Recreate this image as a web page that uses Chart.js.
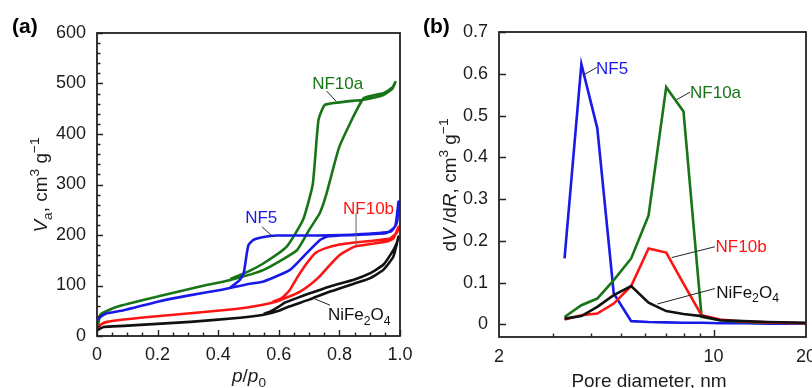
<!DOCTYPE html>
<html>
<head>
<meta charset="utf-8">
<script src="https://cdn.jsdelivr.net/npm/chart.js@4.4.1/dist/chart.umd.min.js"></script>
<style>
  body { margin: 0; background: #fff; }
  .panel { position: absolute; top: 0; }
</style>
</head>
<body>
<canvas id="iso" class="panel" style="left:0" width="430" height="388"></canvas>
<canvas id="psd" class="panel" style="left:410px" width="402" height="388"></canvas>
<script>
// (a) N2 isotherms, each: adsorption branch then desorption branch
const nf10aP = [0.002, 0.011, 0.027, 0.066, 0.2, 0.34, 0.44, 0.55, 0.66, 0.70, 0.735, 0.758, 0.80, 0.88, 0.945, 0.975, 0.985,
                0.975, 0.945, 0.88, 0.753, 0.731, 0.712, 0.68, 0.626, 0.55, 0.50, 0.44];
const nf10aV = [18, 42, 48, 58, 78, 98, 111, 131, 170, 210, 243, 283, 375, 471, 481, 492, 503,
                490, 477, 468, 458, 428, 300, 230, 177, 144, 128, 113];

const nf5P = [0.002, 0.011, 0.033, 0.088, 0.2, 0.3, 0.407, 0.5, 0.55, 0.637, 0.692, 0.736, 0.76, 0.85, 0.956, 0.984, 0.995,
              0.99, 0.97, 0.85, 0.70, 0.593, 0.55, 0.515, 0.50, 0.495, 0.484, 0.47, 0.44];
const nf5V = [32, 38, 45, 51, 68, 80, 91, 103, 108, 131, 164, 190, 197, 200, 204, 217, 266,
              225, 207, 201, 199, 199, 196, 190, 180, 166, 124, 110, 96];

const nf10bP = [0.002, 0.011, 0.033, 0.143, 0.308, 0.45, 0.53, 0.59, 0.63, 0.67, 0.70, 0.735, 0.76, 0.80, 0.85, 0.90, 0.956, 0.978, 0.995,
                0.99, 0.967, 0.90, 0.85, 0.80, 0.755, 0.72, 0.69, 0.66, 0.635, 0.61, 0.58];
const nf10bV = [15, 22, 28, 36, 45, 53, 60, 68, 77, 88, 100, 118, 135, 160, 177, 182, 187, 193, 216,
                205, 193, 188, 185, 181, 174, 164, 142, 115, 90, 75, 68];

const nifeP = [0.002, 0.022, 0.088, 0.308, 0.472, 0.55, 0.60, 0.637, 0.70, 0.769, 0.85, 0.90, 0.945, 0.978, 0.995,
               0.99, 0.978, 0.945, 0.90, 0.85, 0.769, 0.70, 0.659, 0.62, 0.60, 0.571, 0.55];
const nifeV = [12, 18, 20, 28, 36, 42, 50, 59, 72, 88, 104, 114, 131, 157, 197,
               185, 170, 141, 124, 112, 98, 84, 75, 66, 58, 48, 44];

// (b) pore size distributions
const poreD = [3.27, 3.71, 4.18, 4.73, 5.39, 6.14, 7.01, 7.98, 9.14, 10.5, 12.5, 15, 20];
const nf5Dist = [0.158, 0.623, 0.47, 0.074, 0.008, 0.006, 0.005, 0.004, 0.004, 0.003, 0.003, 0.002, 0.002];
const nf10aDist = [0.018, 0.046, 0.062, 0.106, 0.158, 0.261, 0.568, 0.51, 0.018, 0.01, 0.006, 0.004, 0.003];
const nf10bDist = [0.012, 0.022, 0.026, 0.05, 0.092, 0.182, 0.172, 0.098, 0.022, 0.012, 0.007, 0.005, 0.003];
const nifeDist = [0.014, 0.02, 0.042, 0.07, 0.092, 0.052, 0.032, 0.025, 0.02, 0.01, 0.008, 0.006, 0.004];

// tick values / labels
const isoXTicks = [0, 0.2, 0.4, 0.6, 0.8, 1.0];
const isoXLabels = ['0', '0.2', '0.4', '0.6', '0.8', '1.0'];
const isoYTicks = [0, 100, 200, 300, 400, 500, 600];
const psdXTicks = [2, 10, 20];
const psdXMinor = [3, 4, 5, 6, 7, 8, 9];
const psdYTicks = [0, 0.1, 0.2, 0.3, 0.4, 0.5, 0.6, 0.7];

const FONT = '"Liberation Sans", Arial, Helvetica, sans-serif';
const INK = '#1c1c1c';
const GREEN = '#177517', BLUE = '#1a1ae8', RED = '#ff1414', BLACK = '#111111';

function steps(from, to, step) {
  const out = [];
  for (let v = from; v <= to + step / 2; v += step) out.push(+v.toFixed(4));
  return out;
}

function series(xs, ys, color, tension) {
  return {
    data: xs.map((x, i) => ({ x: x, y: ys[i] })),
    showLine: true, borderColor: color, backgroundColor: color,
    borderWidth: 2.6, pointRadius: 0, tension: tension, fill: false
  };
}

function labelOf(list, labels) {
  return v => {
    const i = list.findIndex(t => Math.abs(t - v) < 1e-9);
    return i < 0 ? '' : (labels ? labels[i] : String(list[i]));
  };
}

// text with italic / sub / sup pieces
function rich(ctx, parts, x, y, size, color, align, weight) {
  const segs = parts.map(([t, k]) => {
    const small = k === 'sub' || k === 'sup';
    const fs = small ? size * 0.72 : size;
    const font = (k === 'i' ? 'italic ' : '') + (weight || '') + ' ' + fs + 'px ' + FONT;
    ctx.font = font;
    return { t, font, w: ctx.measureText(t).width, dy: k === 'sub' ? size * 0.27 : k === 'sup' ? -size * 0.42 : 0 };
  });
  const total = segs.reduce((s, g) => s + g.w, 0);
  let cx = align === 'center' ? x - total / 2 : align === 'right' ? x - total : x;
  ctx.fillStyle = color;
  ctx.textAlign = 'left';
  ctx.textBaseline = 'alphabetic';
  segs.forEach(g => { ctx.font = g.font; ctx.fillText(g.t, cx, y + g.dy); cx += g.w; });
}

// frame, inner ticks, callouts, axis titles
function decor(cfg) {
  return {
    id: 'decor',
    afterDraw(chart) {
      const { ctx, chartArea: a, scales } = chart;
      ctx.save();
      ctx.strokeStyle = '#222';
      ctx.lineWidth = 1.8;
      ctx.strokeRect(a.left, a.top, a.right - a.left, a.bottom - a.top);

      ctx.lineWidth = 1.4;
      ctx.beginPath();
      cfg.xTicks.forEach(([v, len]) => {
        const px = Math.round(scales.x.getPixelForValue(v)) + 0.5;
        ctx.moveTo(px, a.bottom); ctx.lineTo(px, a.bottom - len);
      });
      cfg.yTicks.forEach(([v, len]) => {
        const py = Math.round(scales.y.getPixelForValue(v)) + 0.5;
        ctx.moveTo(a.left, py); ctx.lineTo(a.left + len, py);
      });
      ctx.stroke();

      cfg.notes.forEach(n => {
        ctx.strokeStyle = n.lineColor || '#222';
        ctx.lineWidth = 1;
        ctx.beginPath();
        ctx.moveTo(scales.x.getPixelForValue(n.line[0][0]), scales.y.getPixelForValue(n.line[0][1]));
        ctx.lineTo(scales.x.getPixelForValue(n.line[1][0]), scales.y.getPixelForValue(n.line[1][1]));
        ctx.stroke();
        const tx = scales.x.getPixelForValue(n.at[0]);
        const ty = scales.y.getPixelForValue(n.at[1]);
        rich(ctx, n.parts, tx, ty + 6, 17, n.color, 'left');
      });

      rich(ctx, cfg.xTitle, cfg.xTitlePos[0], cfg.xTitlePos[1], 19, INK, 'center');
      ctx.save();
      ctx.translate(cfg.yTitlePos[0], cfg.yTitlePos[1]);
      ctx.rotate(-Math.PI / 2);
      rich(ctx, cfg.yTitle, 0, 0, 19, INK, 'center');
      ctx.restore();
      rich(ctx, [[cfg.letter, '']], cfg.letterPos[0], cfg.letterPos[1], 21, '#000', 'left', 'bold');
      ctx.restore();
    }
  };
}

function axis(extra) {
  return Object.assign({
    grid: { display: false, drawTicks: false, tickLength: 0 },
    border: { display: false }
  }, extra);
}

const tickFont = { size: 18, family: FONT };

// ---- (a) ----
const isoXAll = steps(0, 1, 0.05);
const isoYAll = steps(0, 600, 20);
new Chart(document.getElementById('iso'), {
  type: 'scatter',
  data: {
    datasets: [
      series(nifeP, nifeV, BLACK, 0.15),
      series(nf10bP, nf10bV, RED, 0.15),
      series(nf5P, nf5V, BLUE, 0.15),
      series(nf10aP, nf10aV, GREEN, 0.15)
    ]
  },
  options: {
    responsive: false, animation: false, events: [],
    layout: { padding: { left: 0, top: 33, right: 30, bottom: 0 } },
    plugins: { legend: { display: false }, tooltip: { enabled: false } },
    scales: {
      x: axis({
        type: 'linear', min: 0, max: 1,
        afterBuildTicks: s => { s.ticks = isoXAll.map(v => ({ value: v })); },
        ticks: { autoSkip: false, maxRotation: 0, padding: 8, color: INK, font: tickFont, callback: labelOf(isoXTicks, isoXLabels) },
        afterFit: s => { s.height = 52; s.paddingLeft = 0; s.paddingRight = 0; }
      }),
      y: axis({
        type: 'linear', min: 0, max: 600,
        afterBuildTicks: s => { s.ticks = isoYAll.map(v => ({ value: v })); },
        ticks: { autoSkip: false, padding: 11, color: INK, font: tickFont, callback: labelOf(isoYTicks) },
        afterFit: s => { s.width = 97; s.paddingTop = 0; s.paddingBottom = 0; }
      })
    }
  },
  plugins: [decor({
    xTicks: isoXAll.map(v => [v, isoXTicks.some(t => Math.abs(t - v) < 1e-9) ? 6 : 3.5]),
    yTicks: isoYAll.map(v => [v, isoYTicks.includes(v) ? 6 : 3.5]),
    notes: [
      { parts: [['NF10a', '']], color: GREEN, at: [0.71, 501], line: [[0.758, 485], [0.789, 465]] },
      { parts: [['NF5', '']], color: BLUE, at: [0.489, 236], line: [[0.545, 216], [0.581, 196]] },
      { parts: [['NF10b', '']], color: RED, at: [0.812, 253], line: [[0.855, 244], [0.855, 180]], lineColor: '#666' },
      { parts: [['NiFe', ''], ['2', 'sub'], ['O', ''], ['4', 'sub']], color: BLACK, at: [0.762, 43], line: [[0.713, 75], [0.769, 61]] }
    ],
    xTitle: [['p', 'i'], ['/', ''], ['p', 'i'], ['0', 'sub']],
    xTitlePos: [249, 382],
    yTitle: [['V', 'i'], ['a', 'sub'], [', cm', ''], ['3', 'sup'], [' g', ''], ['\u22121', 'sup']],
    yTitlePos: [47, 185],
    letter: '(a)', letterPos: [12, 33]
  })]
});

// ---- (b) ----
new Chart(document.getElementById('psd'), {
  type: 'scatter',
  data: {
    datasets: [
      series(poreD, nifeDist, BLACK, 0),
      series(poreD, nf10bDist, RED, 0),
      series(poreD, nf10aDist, GREEN, 0),
      series(poreD, nf5Dist, BLUE, 0)
    ]
  },
  options: {
    responsive: false, animation: false, events: [],
    layout: { padding: { left: 0, top: 32, right: 6, bottom: 0 } },
    plugins: { legend: { display: false }, tooltip: { enabled: false } },
    scales: {
      x: axis({
        type: 'logarithmic', min: 2, max: 20,
        afterBuildTicks: s => { s.ticks = psdXTicks.concat(psdXMinor).sort((p, q) => p - q).map(v => ({ value: v })); },
        ticks: { autoSkip: false, maxRotation: 0, padding: 9, color: INK, font: tickFont, callback: labelOf(psdXTicks) },
        afterFit: s => { s.height = 51; s.paddingLeft = 0; s.paddingRight = 0; }
      }),
      y: axis({
        type: 'linear', min: -0.03, max: 0.7,
        afterBuildTicks: s => { s.ticks = psdYTicks.map(v => ({ value: v })); },
        ticks: { autoSkip: false, padding: 11, color: INK, font: tickFont, callback: labelOf(psdYTicks) },
        afterFit: s => { s.width = 89; s.paddingTop = 0; s.paddingBottom = 0; }
      })
    }
  },
  plugins: [decor({
    xTicks: psdXMinor.map(v => [v, 3.5]).concat([[10, 7]]),
    yTicks: psdYTicks.map(v => [v, 7]),
    notes: [
      { parts: [['NF5', '']], color: BLUE, at: [4.14, 0.613], line: [[3.75, 0.596], [4.16, 0.615]] },
      { parts: [['NF10a', '']], color: GREEN, at: [8.38, 0.556], line: [[7.58, 0.538], [8.38, 0.556]] },
      { parts: [['NF10b', '']], color: RED, at: [10.15, 0.187], line: [[7.3, 0.16], [10.1, 0.186]] },
      { parts: [['NiFe', ''], ['2', 'sub'], ['O', ''], ['4', 'sub']], color: BLACK, at: [10.2, 0.078], line: [[6.56, 0.049], [10.1, 0.086]] }
    ],
    xTitle: [['Pore diameter, nm', '']],
    xTitlePos: [239, 387],
    yTitle: [['d', ''], ['V', 'i'], [' /d', ''], ['R', 'i'], [', cm', ''], ['3', 'sup'], [' g', ''], ['\u22121', 'sup']],
    yTitlePos: [46, 185],
    letter: '(b)', letterPos: [13, 33]
  })]
});
</script>
</body>
</html>
